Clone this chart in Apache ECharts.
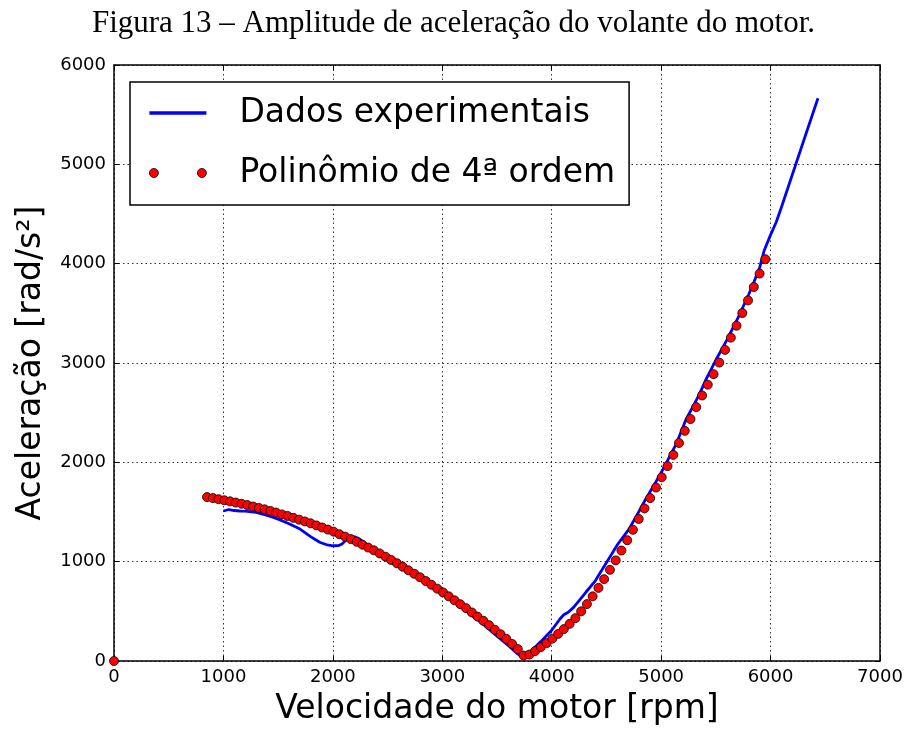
<!DOCTYPE html>
<html>
<head>
<meta charset="utf-8">
<script src="https://cdn.jsdelivr.net/npm/echarts@6/dist/echarts.min.js"></script>
<style>html,body{margin:0;padding:0;background:#fff}#c{width:907px;height:731px}</style>
</head>
<body>
<div id="c"></div>
<script>
const titleText = 'Figura 13 – Amplitude de aceleração do volante do motor.';
const xName = 'Velocidade do motor [rpm]';
const yName = 'Aceleração [rad/s²]';
const seriesNames = ['Dados experimentais', 'Polinômio de 4ª ordem'];
const xTicks = [0, 1000, 2000, 3000, 4000, 5000, 6000, 7000];
const yTicks = [0, 1000, 2000, 3000, 4000, 5000, 6000];

const expRpm = [1000,1050,1100,1150,1200,1300,1400,1450,1500,1600,1700,1800,1880,1950,2000,2050,2080,2120,2155,2200,2245,2300,2400,2500,2600,2700,2800,2900,3000,3100,3200,3300,3400,3500,3600,3680,3730,3780,3830,3900,3952,4000,4075,4110,4151,4200,4312,4400,4464,4550,4600,4706,4800,4858,4950,5000,5136,5227,5300,5348,5409,5500,5600,5700,5800,5850,5900,5941,6000,6052,6100,6200,6300,6433];
const expAcc = [1510,1525,1515,1510,1508,1497,1465,1447,1428,1382,1328,1250,1195,1168,1160,1162,1175,1215,1252,1250,1228,1180,1085,1015,955,890,820,750,675,600,520,435,345,250,160,80,40,70,121,195,255,310,423,465,490,540,692,810,926,1080,1170,1328,1510,1629,1800,1896,2180,2431,2580,2682,2833,3030,3230,3450,3690,3820,3960,4130,4290,4420,4570,4900,5230,5665];

const polyRpm = [0,850,903,955,1008,1060,1113,1166,1218,1271,1323,1376,1429,1481,1534,1586,1639,1692,1744,1797,1849,1902,1955,2007,2060,2112,2165,2218,2270,2323,2375,2428,2481,2533,2586,2638,2691,2744,2796,2849,2901,2954,3007,3059,3112,3164,3217,3270,3322,3375,3427,3480,3533,3585,3638,3690,3743,3796,3848,3901,3953,4006,4059,4111,4164,4216,4269,4322,4374,4427,4479,4532,4585,4637,4690,4742,4795,4848,4900,4953,5005,5058,5111,5163,5216,5268,5321,5374,5426,5479,5531,5584,5637,5689,5742,5794,5847,5900,5952];
const polyAcc = [0,1650,1640,1629,1618,1607,1595,1583,1570,1555,1541,1527,1511,1494,1476,1460,1441,1423,1405,1386,1365,1344,1323,1302,1276,1252,1227,1200,1171,1142,1114,1083,1050,1017,984,949,913,878,843,805,767,728,690,651,611,572,532,489,447,405,361,315,269,223,172,120,55,65,100,140,180,225,273,321,374,431,500,573,651,736,824,918,1013,1112,1216,1321,1430,1536,1640,1746,1850,1962,2075,2195,2317,2436,2556,2673,2782,2888,3004,3132,3255,3375,3503,3630,3765,3900,4045];

const expData = expRpm.map((x, i) => [x, expAcc[i]]);
const polyData = polyRpm.map((x, i) => [x, polyAcc[i]]);

const FONT = 'DejaVu Sans';
const xMin = xTicks[0], xMax = xTicks[xTicks.length - 1], xStep = xTicks[1] - xTicks[0];
const yMin = yTicks[0], yMax = yTicks[yTicks.length - 1], yStep = yTicks[1] - yTicks[0];

const frameLine = { show: true, onZero: false, lineStyle: { color: '#000', width: 1.5 } };
const tick = { show: true, inside: true, length: 5, lineStyle: { color: '#000', width: 1 } };
const grid = { show: true, lineStyle: { color: '#000', width: 0.8, type: [1.5, 3] } };
const plain = v => String(v);

const chart = echarts.init(document.getElementById('c'), null, { renderer: 'canvas' });
chart.setOption({
  animation: false,
  backgroundColor: '#fff',
  title: {
    text: titleText, left: 'center', top: 3,
    textStyle: { fontFamily: 'Liberation Serif', fontSize: 31, fontWeight: 'normal', color: '#000' }
  },
  grid: { left: 114, right: 27, top: 65, bottom: 69 },
  legend: {
    orient: 'vertical', left: 130, top: 82,
    padding: [11, 14, 12, 19],
    borderColor: '#000', borderWidth: 1.5, backgroundColor: '#fff',
    itemWidth: 57, itemHeight: 9, itemGap: 20,
    textStyle: { fontFamily: FONT, fontSize: 33, color: '#000', lineHeight: 40, padding: [0, 0, 0, 28] },
    data: [
      { name: seriesNames[0], icon: 'path://M3,0H54V3H3Z', itemStyle: { color: '#0000ff' } },
      { name: seriesNames[1], icon: 'path://M0,4.5a4.5,4.5 0 1,0 9,0a4.5,4.5 0 1,0 -9,0M48,4.5a4.5,4.5 0 1,0 9,0a4.5,4.5 0 1,0 -9,0',
        itemStyle: { color: '#ff0000', borderColor: '#000', borderWidth: 0.8 } }
    ]
  },
  xAxis: [
    {
      type: 'value', min: xMin, max: xMax, interval: xStep, position: 'bottom',
      name: xName, nameLocation: 'middle', nameGap: 32,
      nameTextStyle: { fontFamily: FONT, fontSize: 33, color: '#000' },
      axisLine: frameLine, axisTick: tick, splitLine: grid,
      axisLabel: { fontFamily: FONT, fontSize: 18, color: '#000', margin: 7, formatter: plain }
    },
    {
      type: 'value', min: xMin, max: xMax, interval: xStep, position: 'top',
      axisLine: frameLine, axisTick: tick, splitLine: { show: false }, axisLabel: { show: false }
    }
  ],
  yAxis: [
    {
      type: 'value', min: yMin, max: yMax, interval: yStep, position: 'left',
      name: yName, nameLocation: 'middle', nameGap: 66, nameRotate: 90,
      nameTextStyle: { fontFamily: FONT, fontSize: 33, color: '#000' },
      axisLine: frameLine, axisTick: tick, splitLine: grid,
      axisLabel: { fontFamily: FONT, fontSize: 18, color: '#000', margin: 8, formatter: plain }
    },
    {
      type: 'value', min: yMin, max: yMax, interval: yStep, position: 'right',
      axisLine: frameLine, axisTick: tick, splitLine: { show: false }, axisLabel: { show: false }
    }
  ],
  series: [
    {
      name: seriesNames[0], type: 'line', data: expData, symbol: 'none', smooth: false,
      lineStyle: { color: '#0000ff', width: 2.8 }, itemStyle: { color: '#0000ff' }, z: 2
    },
    {
      name: seriesNames[1], type: 'scatter', data: polyData, symbol: 'circle', symbolSize: 9,
      itemStyle: { color: '#ff0000', borderColor: '#000', borderWidth: 0.8, opacity: 1 }, z: 3
    }
  ]
});
</script>
</body>
</html>
